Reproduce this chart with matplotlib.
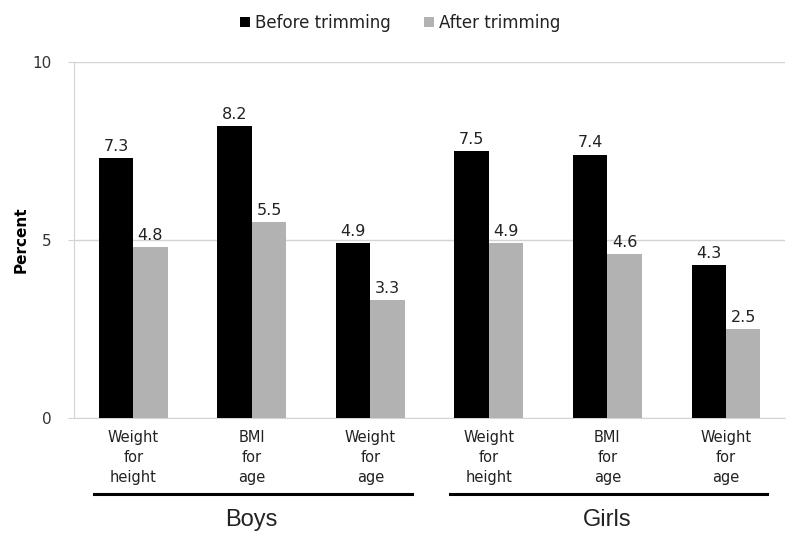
import matplotlib

matplotlib.use("Agg")
import matplotlib.pyplot as plt  # noqa: E402
import numpy as np  # noqa: E402

categories = ["Weight\nfor\nheight", "BMI\nfor\nage", "Weight\nfor\nage",
              "Weight\nfor\nheight", "BMI\nfor\nage", "Weight\nfor\nage"]
groups = ["Boys", "Girls"]
before = [7.3, 8.2, 4.9, 7.5, 7.4, 4.3]
after = [4.8, 5.5, 3.3, 4.9, 4.6, 2.5]
yticks = [0, 5, 10]

BLACK, GREY, GRID, TXT = "#000000", "#b2b2b2", "#d4d4d4", "#222222"
plt.rcParams.update({"font.family": "DejaVu Sans"})

fig = plt.figure(figsize=(8, 5.44), dpi=100)
ax = fig.add_axes([0.0925, 0.232, 0.889, 0.654])

x = np.arange(len(categories))
w = 0.29
bb = ax.bar(x - w / 2, before, w, color=BLACK, label="Before trimming", zorder=3)
ba = ax.bar(x + w / 2, after, w, color=GREY, label="After trimming", zorder=3)
for bars in (bb, ba):
    for r in bars:
        ax.annotate(f"{r.get_height():.1f}", (r.get_x() + r.get_width() / 2, r.get_height()),
                    textcoords="offset points", xytext=(0, 3), ha="center", va="bottom",
                    fontsize=11.5, color=TXT)

ax.set_xlim(-0.5, len(categories) - 0.5)
ax.set_ylim(0, 10)
ax.set_yticks(yticks)
ax.set_yticklabels([str(t) for t in yticks], fontsize=11, color="#333333")
ax.yaxis.grid(True, color=GRID, linewidth=1, zorder=0)
ax.set_xticks(x)
ax.set_xticklabels(categories, fontsize=10.5, linespacing=1.42, color=TXT)
ax.tick_params(axis="x", length=0, pad=9)
ax.tick_params(axis="y", length=4, color=GRID, pad=12)
for sp in ("top", "right"):
    ax.spines[sp].set_visible(False)
ax.spines["left"].set_color(GRID)
ax.spines["bottom"].set_color(GRID)
ax.set_ylabel("Percent", fontsize=11, fontweight="bold")
ax.yaxis.set_label_coords(-0.064, 0.5)

# group underlines and names
for i, g in enumerate(groups):
    x0 = 3 * i - 0.33
    x1 = 3 * i + 2.35
    ax.plot([x0, x1], [-2.15, -2.15], color=BLACK, lw=2.2, clip_on=False)
    ax.text(3 * i + 1, -2.88, g, ha="center", va="center", fontsize=17,
            family="Liberation Sans", color=TXT)

fig.legend(handles=[bb, ba], loc="center", bbox_to_anchor=(0.5, 0.958), ncol=2,
           frameon=False, fontsize=12, handlelength=0.6, handleheight=0.6,
           handletextpad=0.3, columnspacing=2.0, labelcolor=TXT)

fig.savefig("out.png", dpi=100)
